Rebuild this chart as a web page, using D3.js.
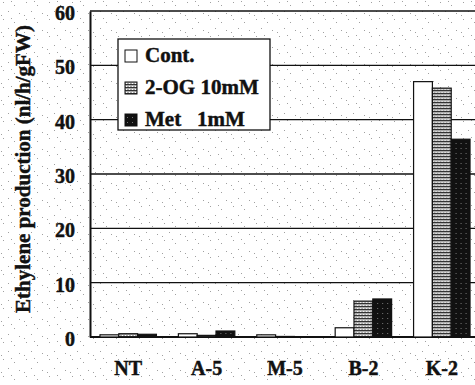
<!DOCTYPE html>
<html>
<head>
<meta charset="utf-8">
<script src="https://cdn.jsdelivr.net/npm/d3@7"></script>
<style>
  html, body { margin: 0; padding: 0; background: #fff; }
  svg { display: block; }
  svg text { font-family: "Liberation Serif", "DejaVu Serif", serif; font-weight: bold; fill: #111; stroke: #111; stroke-width: 0.45px; }
</style>
</head>
<body>
<svg width="475" height="385"></svg>
<script>
// Ethylene production per line and treatment.
const categories = ["NT", "A-5", "M-5", "B-2", "K-2"];
const seriesNames = ["Cont.", "2-OG 10mM", "Met   1mM"];
const cont = [0.4, 0.6, 0.4, 1.7, 47.0];
const og   = [0.6, 0.3, 0.1, 6.6, 45.8];
const met  = [0.5, 1.1, 0.05, 7.0, 36.4];
const yTicks = [0, 10, 20, 30, 40, 50, 60];

const svg = d3.select("svg");
const defs = svg.append("defs");

// scan-like speckle behind everything
const speck = defs.append("pattern").attr("id", "speck")
    .attr("width", 23).attr("height", 17).attr("patternUnits", "userSpaceOnUse");
[[3, 2], [14, 5], [8, 11], [19, 13], [1, 15], [11, 1]].forEach(p => {
    speck.append("rect").attr("x", p[0]).attr("y", p[1]).attr("width", 1).attr("height", 1).attr("fill", "#a0a0a0");
});
const grey = defs.append("pattern").attr("id", "grey")
    .attr("width", 3).attr("height", 3).attr("patternUnits", "userSpaceOnUse");
grey.append("rect").attr("width", 3).attr("height", 3).attr("fill", "#aaa");
grey.append("rect").attr("width", 3).attr("height", 1).attr("fill", "#333");
grey.append("rect").attr("x", 1).attr("y", 2).attr("width", 1).attr("height", 1).attr("fill", "#fff");
const dark = defs.append("pattern").attr("id", "dark")
    .attr("width", 5).attr("height", 5).attr("patternUnits", "userSpaceOnUse");
dark.append("rect").attr("width", 5).attr("height", 5).attr("fill", "#111");
dark.append("rect").attr("x", 2).attr("y", 3).attr("width", 1).attr("height", 1).attr("fill", "#777");

const fills = ["#fff", "url(#grey)", "url(#dark)"];

svg.append("rect").attr("width", 475).attr("height", 385).attr("fill", "url(#speck)");

const left = 90, right = 481;
const y = d3.scaleLinear().domain([0, 60]).range([337, 11]);
const x = d3.scaleBand().domain(categories).range([89, 481])
    .paddingInner(0.28).paddingOuter(0.14);
const xs = d3.scaleBand().domain(seriesNames).range([0, x.bandwidth()]);

// gridlines (incl. top frame at 60 and baseline at 0)
svg.append("g").selectAll("line").data(yTicks).enter().append("line")
    .attr("x1", left).attr("x2", right)
    .attr("y1", d => y(d)).attr("y2", d => y(d))
    .attr("stroke", "#111")
    .attr("stroke-width", d => d === 0 ? 1.8 : 1.3);

// left axis
const yAxis = svg.append("g").attr("transform", `translate(${left},0)`)
    .call(d3.axisLeft(y).tickValues(yTicks).tickSize(0).tickPadding(15));
yAxis.select(".domain").attr("stroke", "#111").attr("stroke-width", 2);
yAxis.selectAll("text").attr("font-size", 20).attr("dy", "0.42em");

// bars
const rows = categories.map((c, i) => ({ cat: c, vals: [cont[i], og[i], met[i]] }));
const groups = svg.append("g").selectAll("g").data(rows).enter().append("g")
    .attr("transform", d => `translate(${x(d.cat)},0)`);
groups.selectAll("rect").data(d => d.vals.map((v, j) => ({ v, j }))).enter().append("rect")
    .attr("x", d => xs(seriesNames[d.j]))
    .attr("width", xs.bandwidth())
    .attr("y", d => y(d.v))
    .attr("height", d => y(0) - y(d.v))
    .attr("fill", d => fills[d.j])
    .attr("stroke", "#111").attr("stroke-width", 1.2);

// category labels
svg.append("g").selectAll("text").data(categories).enter().append("text")
    .attr("x", d => x(d) + x.bandwidth() / 2)
    .attr("y", 375)
    .attr("text-anchor", "middle")
    .attr("font-size", 20)
    .text(d => d);

// y title
svg.append("text")
    .attr("transform", "translate(30,169) rotate(-90)")
    .attr("text-anchor", "middle")
    .attr("font-size", 21)
    .text("Ethylene production (nl/h/gFW)");

// legend
const lg = svg.append("g").attr("transform", "translate(118,39)");
lg.append("rect").attr("width", 152).attr("height", 91)
    .attr("fill", "#fff").attr("stroke", "#111").attr("stroke-width", 1.3);
seriesNames.forEach((s, i) => {
    const row = lg.append("g").attr("transform", `translate(7,${16 + i * 32})`);
    row.append("rect").attr("x", 0).attr("y", -5).attr("width", 12).attr("height", 12)
        .attr("fill", fills[i]).attr("stroke", "#111").attr("stroke-width", 1);
    row.append("text").attr("x", 20).attr("y", 7).attr("font-size", 21)
        .style("white-space", "pre").text(s);
});
</script>
</body>
</html>
